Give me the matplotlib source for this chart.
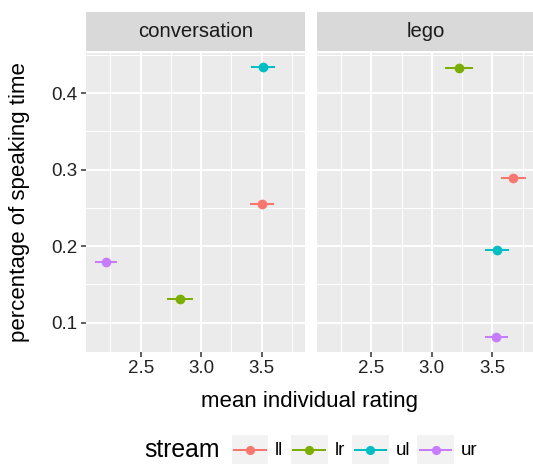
import numpy as np
import matplotlib
matplotlib.use('Agg')
import matplotlib.pyplot as plt
from matplotlib.patches import Rectangle
from matplotlib.lines import Line2D
from matplotlib.legend_handler import HandlerBase
from matplotlib.ticker import FixedLocator

plt.rcParams['font.family'] = ['Liberation Sans', 'DejaVu Sans']

# data
streams = ['ll', 'lr', 'ul', 'ur']
colors = ['#F8766D', '#7CAE00', '#00BFC4', '#C77CFF']
panels = ['conversation', 'lego']

conv_rating = [3.505, 2.822, 3.511, 2.213]
conv_pct = [0.255, 0.1305, 0.4347, 0.179]
conv_err = [0.100, 0.107, 0.099, 0.093]

lego_rating = [3.674, 3.223, 3.538, 3.530]
lego_pct = [0.289, 0.433, 0.1957, 0.0818]
lego_err = [0.105, 0.113, 0.103, 0.095]

xticks = [2.5, 3.0, 3.5]
yticks = [0.1, 0.2, 0.3, 0.4]

W, H = 533, 465
fig = plt.figure(figsize=(W / 100, H / 100), dpi=100)


class KeyHandler(HandlerBase):
    # ggplot style legend key: grey box, line and point
    def create_artists(self, legend, orig_handle, xdescent, ydescent,
                       width, height, fontsize, trans):
        c = orig_handle.get_color()
        bg = Rectangle((-xdescent, -ydescent), width, height,
                       facecolor='#F2F2F2', edgecolor='none', transform=trans)
        yc = -ydescent + height / 2
        ln = Line2D([-xdescent + 0.07 * width, -xdescent + 0.93 * width], [yc, yc],
                    color=c, lw=1.45, transform=trans)
        dot = Line2D([-xdescent + width / 2], [yc], marker='o', ms=6.6, mew=0,
                     color=c, lw=0, transform=trans)
        return [bg, ln, dot]


panel_w = 219 / W
panel_h = (351.7 - 53) / H
bottom = 1 - 351.7 / H
lefts = [86 / W, 316.7 / W]

data = [(conv_rating, conv_pct, conv_err), (lego_rating, lego_pct, lego_err)]

for k, name in enumerate(panels):
    ax = fig.add_axes([lefts[k], bottom, panel_w, panel_h])
    ax.set_facecolor('#EBEBEB')
    rating, pct, err = data[k]
    for i in range(len(streams)):
        ax.errorbar(rating[i], pct[i], xerr=err[i], fmt='o', color=colors[i],
                    ms=7.0, mew=0, elinewidth=1.45, capsize=0, zorder=3)
    ax.set_xlim(2.048, 3.858)
    ax.set_ylim(0.0622, 0.4524)
    ax.set_xticks(xticks)
    ax.set_yticks(yticks)
    ax.xaxis.set_minor_locator(FixedLocator([2.25, 2.75, 3.25, 3.75]))
    ax.yaxis.set_minor_locator(FixedLocator([0.15, 0.25, 0.35, 0.45]))
    ax.grid(which='major', color='white', lw=1.4)
    ax.grid(which='minor', color='white', lw=0.7)
    ax.set_axisbelow(True)
    for s in ax.spines.values():
        s.set_visible(False)
    ax.tick_params(which='major', length=3.6, width=1.1, color='#333333',
                   labelsize=13.5, labelcolor='#222222', pad=2.5)
    ax.tick_params(which='minor', length=0)
    if k == 1:
        ax.tick_params(axis='y', which='both', left=False, labelleft=False)

    # facet strip
    sax = fig.add_axes([lefts[k], 1 - 51 / H, panel_w, 39 / H])
    sax.set_facecolor('#D9D9D9')
    sax.set_xticks([])
    sax.set_yticks([])
    for s in sax.spines.values():
        s.set_visible(False)
    sax.text(0.5, 0.5, name, ha='center', va='center', fontsize=14.6,
             color='#1A1A1A', transform=sax.transAxes)

fig.text(309.5 / W, 1 - 406.7 / H, 'mean individual rating', ha='center',
         va='baseline', fontsize=16)
fig.text(20 / W, 1 - 202 / H, 'percentage of speaking time', ha='center',
         va='center', rotation=90, fontsize=16)

# legend
handles = [Line2D([], [], color=c) for c in colors]
fig.text(144 / W, 1 - 457 / H, 'stream', ha='left', va='baseline', fontsize=17.8)
fig.legend(handles, streams, loc='center left', ncol=4,
           bbox_to_anchor=(231.7 / W, 1 - 449.5 / H), frameon=False,
           fontsize=13.5, handlelength=1.96, handleheight=1.96,
           handletextpad=0.36, columnspacing=0.39, borderpad=0,
           borderaxespad=0, handler_map={Line2D: KeyHandler()})

fig.savefig('out.png', dpi=100)
